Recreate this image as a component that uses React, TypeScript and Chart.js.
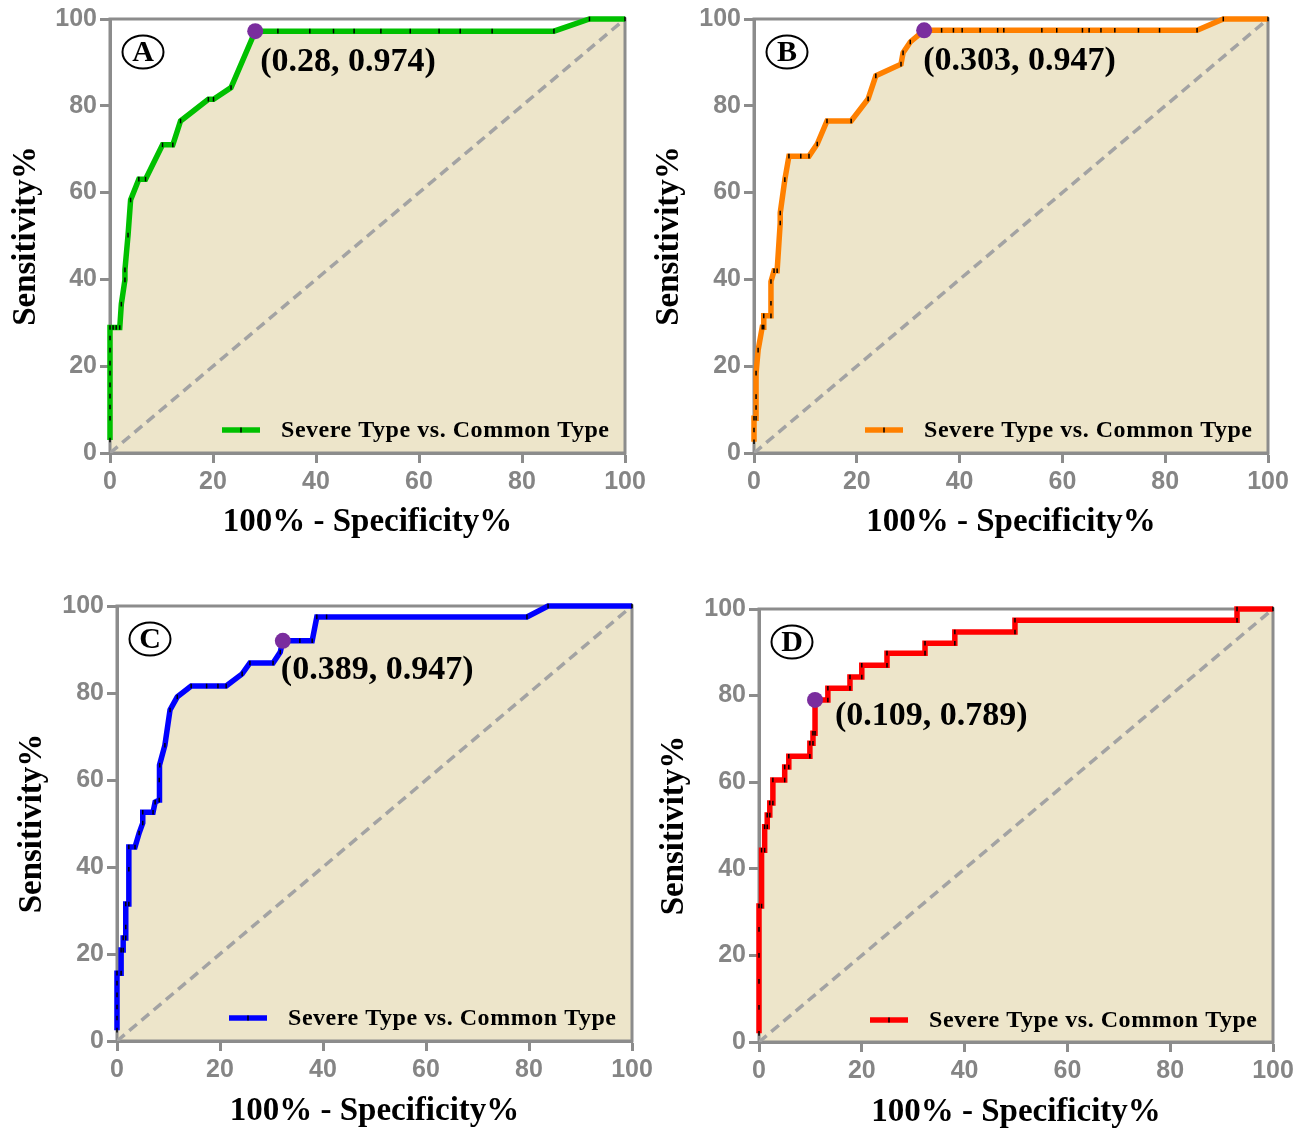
import React, { useEffect, useRef } from "react";
import { Chart, registerables } from "chart.js";

Chart.register(...registerables);

// ---------- tick labels & texts ----------
const xTickValues = [0, 20, 40, 60, 80, 100];
const yTickValues = [0, 20, 40, 60, 80, 100];
const xAxisTitle = "100% - Specificity%";
const yAxisTitle = "Sensitivity%";
const legendLabel = "Severe Type vs. Common Type";
const panelLetters = ["A", "B", "C", "D"];
const cutoffLabels = ["(0.28, 0.974)", "(0.303, 0.947)", "(0.389, 0.947)", "(0.109, 0.789)"];
const cutoffFpr = [28.2, 33.1, 32.2, 10.9];
const cutoffTpr = [97.2, 97.4, 92.0, 79.0];
const diagonalX = [0, 100];
const diagonalY = [0, 100];

// ---------- Panel A (green) ----------
const fprA = [0, 0, 0, 0, 0, 0, 0, 0, 0, 0, 0.6, 1.2, 1.9, 2.2, 2.9, 2.9, 3.5, 4.0, 5.6, 6.9, 10.2, 12.2, 13.7, 19.1, 20.1, 23.5, 28.2, 32.6, 38.8, 43.4, 47.4, 52.6, 58.3, 63.9, 68.0, 74.2, 86.2, 93.1, 100];
const tprA = [3.0, 8.0, 10.6, 13.1, 15.7, 18.4, 20.7, 23.7, 26.5, 28.9, 28.9, 28.9, 28.9, 34.3, 39.9, 42.2, 50.2, 58.3, 63.1, 63.1, 71.0, 71.0, 76.5, 81.5, 81.5, 84.2, 97.2, 97.2, 97.2, 97.2, 97.2, 97.2, 97.2, 97.2, 97.2, 97.2, 97.2, 100, 100];

// ---------- Panel B (orange) ----------
const fprB = [0, 0, 0, 0.4, 0.4, 0.4, 0.4, 0.8, 1.6, 1.9, 1.9, 3.3, 3.3, 3.3, 3.9, 4.5, 5.1, 5.1, 6.0, 6.8, 9.1, 10.7, 12.3, 14.2, 18.9, 22.2, 23.7, 28.6, 29.0, 30.4, 33.1, 36.5, 38.8, 40.5, 44.0, 47.4, 48.6, 56.0, 58.9, 63.9, 65.2, 67.5, 70.2, 74.8, 78.9, 86.2, 91.3, 100];
const tprB = [2.6, 5.3, 8.0, 8.0, 10.5, 13.0, 18.4, 23.7, 29.0, 29.0, 31.6, 31.6, 34.5, 39.5, 42.0, 42.0, 53.0, 55.3, 63.0, 68.4, 68.4, 68.4, 71.2, 76.5, 76.5, 81.6, 86.9, 89.6, 92.2, 94.7, 97.4, 97.4, 97.4, 97.4, 97.4, 97.4, 97.4, 97.4, 97.4, 97.4, 97.4, 97.4, 97.4, 97.4, 97.4, 97.4, 100, 100];

// ---------- Panel C (blue) ----------
const fprC = [0, 0, 0, 0, 0, 0, 0.8, 0.8, 1.2, 1.2, 1.7, 1.7, 1.7, 2.3, 2.3, 2.3, 3.5, 4.3, 5.0, 5.0, 7.0, 7.4, 8.2, 8.2, 8.3, 9.3, 10.3, 11.7, 14.4, 17.4, 19.6, 21.2, 24.3, 25.8, 30.3, 31.7, 32.2, 35.5, 37.9, 38.8, 40.7, 79.6, 83.7, 100];
const tprC = [2.5, 5.3, 7.8, 10.6, 13.3, 15.6, 15.6, 20.9, 20.9, 23.7, 23.7, 26.2, 31.5, 31.5, 39.5, 44.6, 44.6, 47.8, 50.1, 52.6, 52.6, 54.9, 55.4, 60.0, 63.4, 68.0, 76.1, 79.1, 81.6, 81.6, 81.6, 81.6, 84.4, 86.9, 86.9, 89.4, 92.0, 92.0, 92.0, 97.5, 97.5, 97.5, 100, 100];

// ---------- Panel D (red) ----------
const fprD = [0, 0, 0, 0, 0, 0, 0.5, 0.5, 1.1, 1.1, 1.6, 1.6, 2.1, 2.1, 2.7, 2.7, 5.0, 5.0, 5.8, 5.8, 9.9, 9.9, 10.5, 10.5, 10.9, 10.9, 13.4, 13.4, 17.7, 17.7, 20.0, 20.0, 24.9, 24.9, 32.3, 32.3, 38.1, 38.1, 49.8, 49.8, 93.0, 93.0, 100];
const tprD = [2.0, 8.0, 14.0, 20.0, 26.0, 31.4, 31.4, 44.3, 44.3, 49.7, 49.7, 52.4, 52.4, 55.2, 55.2, 60.5, 60.5, 63.5, 63.5, 66.0, 66.0, 69.0, 69.0, 71.3, 71.3, 79.0, 79.0, 81.7, 81.7, 84.3, 84.3, 87.0, 87.0, 89.8, 89.8, 92.1, 92.1, 94.7, 94.7, 97.4, 97.4, 100, 100];

const seriesFpr = [fprA, fprB, fprC, fprD];
const seriesTpr = [tprA, tprB, tprC, tprD];
const seriesColors = ["#00c000", "#ff8000", "#0000ff", "#ff0000"];

// ---------- layout (page pixels) ----------
type Layout = {
  area: [number, number, number, number]; // left, top, right, bottom
  yTitleX: number;
  xTitleY: number;
  labelDx: number;
  labelDy: number;
  legendDy: number;
};
const layouts: Layout[] = [
  { area: [110, 19, 625, 453], yTitleX: 27, xTitleY: 522, labelDx: 5, labelDy: 31, legendDy: 22 },
  { area: [754, 19, 1268, 453], yTitleX: 670, xTitleY: 522, labelDx: -1, labelDy: 31, legendDy: 22 },
  { area: [117, 606, 632, 1041], yTitleX: 33, xTitleY: 1111, labelDx: -2, labelDy: 29, legendDy: 22 },
  { area: [759, 609, 1273, 1042], yTitleX: 675, xTitleY: 1112, labelDx: 20, labelDy: 16, legendDy: 21 },
];

const AXIS_GREY = "#8c8c8c";
const TICK_GREY = "#858585";
const BEIGE = "rgb(237,229,202)";
const PURPLE = "#7a2d9e";
const SERIF = '"Liberation Serif", "Times New Roman", serif';
const SANS = '"Liberation Sans", Arial, sans-serif';
const TITLE_SIZE = 33;
const TITLE_HALF = (TITLE_SIZE * 1.2) / 2;

function RocPanel({ idx }: { idx: number }) {
  const ref = useRef<HTMLCanvasElement | null>(null);
  const L = layouts[idx];
  const [aL, aT, aR, aB] = L.area;
  const cLeft = Math.round(L.yTitleX - TITLE_HALF);
  const cTop = aT - 45;
  const cRight = aR + 45;
  const cBottom = Math.round(L.xTitleY + TITLE_HALF);
  const W = cRight - cLeft;
  const H = cBottom - cTop;

  useEffect(() => {
    if (!ref.current) return;
    const color = seriesColors[idx];
    const rocData = seriesFpr[idx].map((x, i) => ({ x, y: seriesTpr[idx][i] }));
    const diagData = diagonalX.map((x, i) => ({ x, y: diagonalY[i] }));
    const cutData = [{ x: cutoffFpr[idx], y: cutoffTpr[idx] }];

    const decor = {
      id: "decor" + idx,
      beforeDatasetsDraw(chart: any) {
        const { ctx, chartArea: a } = chart;
        ctx.save();
        ctx.strokeStyle = AXIS_GREY;
        ctx.lineWidth = 3;
        ctx.strokeRect(a.left, a.top, a.right - a.left, a.bottom - a.top);
        ctx.restore();
      },
      afterDraw(chart: any) {
        const { ctx, chartArea: a, scales } = chart;
        ctx.save();
        // circled letter
        const cx = a.left + 33;
        const cy = a.top + 33;
        ctx.beginPath();
        ctx.ellipse(cx, cy, 20.5, 16.5, 0, 0, Math.PI * 2);
        ctx.strokeStyle = "#000";
        ctx.lineWidth = 2;
        ctx.stroke();
        ctx.fillStyle = "#000";
        ctx.font = `bold 30px ${SERIF}`;
        ctx.textAlign = "center";
        ctx.textBaseline = "middle";
        ctx.fillText(panelLetters[idx], cx, cy + 1.5);

        // cut-off annotation
        const px = scales.x.getPixelForValue(cutoffFpr[idx]);
        const py = scales.y.getPixelForValue(cutoffTpr[idx]);
        ctx.font = `bold 34px ${SERIF}`;
        ctx.textAlign = "left";
        ctx.fillText(cutoffLabels[idx], px + L.labelDx, py + L.labelDy);

        // legend
        const textLeft = a.right - 344;
        const ly = a.bottom - L.legendDy;
        ctx.font = `bold 24px ${SERIF}`;
        (ctx as any).letterSpacing = "0px";
        const w0 = ctx.measureText(legendLabel).width;
        (ctx as any).letterSpacing = ((328 - w0) / (legendLabel.length - 1)).toFixed(2) + "px";
        ctx.fillText(legendLabel, textLeft, ly);
        (ctx as any).letterSpacing = "0px";
        ctx.beginPath();
        ctx.moveTo(textLeft - 59, ly - 1);
        ctx.lineTo(textLeft - 21, ly - 1);
        ctx.strokeStyle = color;
        ctx.lineWidth = 5.5;
        ctx.stroke();
        ctx.beginPath();
        ctx.moveTo(textLeft - 40, ly - 3.5);
        ctx.lineTo(textLeft - 40, ly + 1.5);
        ctx.strokeStyle = "#000";
        ctx.lineWidth = 1.5;
        ctx.stroke();
        ctx.restore();
      },
    };

    const chart = new Chart(ref.current, {
      type: "line",
      data: {
        datasets: [
          {
            data: cutData,
            showLine: false,
            pointRadius: 8,
            pointStyle: "circle",
            pointBackgroundColor: PURPLE,
            pointBorderColor: PURPLE,
            borderWidth: 0,
            fill: false,
          },
          {
            data: rocData,
            borderColor: color,
            borderWidth: 5.5,
            backgroundColor: BEIGE,
            fill: "start",
            tension: 0,
            pointStyle: "line",
            pointRotation: 90,
            pointRadius: 2.3,
            pointBorderColor: "#000",
            pointBorderWidth: 1.5,
            clip: 4,
          },
          {
            data: diagData,
            borderColor: "#a3a3a3",
            borderWidth: 3.5,
            borderDash: [10, 6],
            pointRadius: 0,
            fill: false,
          },
        ],
      } as any,
      options: {
        animation: false,
        responsive: false,
        maintainAspectRatio: false,
        devicePixelRatio: 1,
        events: [],
        layout: { padding: { left: 0, top: aT - cTop, right: cRight - aR, bottom: 0 } },
        plugins: {
          legend: { display: false },
          tooltip: { enabled: false },
          filler: { drawTime: "beforeDatasetsDraw" } as any,
        },
        scales: {
          x: {
            type: "linear",
            min: 0,
            max: 100,
            afterBuildTicks: (s: any) => {
              s.ticks = xTickValues.map((v) => ({ value: v }));
            },
            afterFit: (s: any) => {
              s.height = cBottom - aB;
            },
            grid: { drawOnChartArea: false, drawTicks: true, tickLength: 10, tickWidth: 3, tickColor: AXIS_GREY },
            border: { display: true, color: AXIS_GREY, width: 3 },
            ticks: {
              color: TICK_GREY,
              font: { family: SANS, weight: "bold", size: 25 },
              padding: 4,
              maxRotation: 0,
              autoSkip: false,
            },
            title: {
              display: true,
              text: xAxisTitle,
              color: "#000",
              font: { family: SERIF, weight: "bold", size: TITLE_SIZE },
              padding: 0,
            },
          },
          y: {
            type: "linear",
            min: 0,
            max: 100,
            afterBuildTicks: (s: any) => {
              s.ticks = yTickValues.map((v) => ({ value: v }));
            },
            afterFit: (s: any) => {
              s.width = aL - cLeft;
            },
            grid: { drawOnChartArea: false, drawTicks: true, tickLength: 10, tickWidth: 3, tickColor: AXIS_GREY },
            border: { display: true, color: AXIS_GREY, width: 3 },
            ticks: {
              color: TICK_GREY,
              font: { family: SANS, weight: "bold", size: 25 },
              padding: 3,
              autoSkip: false,
            },
            title: {
              display: true,
              text: yAxisTitle,
              color: "#000",
              font: { family: SERIF, weight: "bold", size: TITLE_SIZE },
              padding: 0,
            },
          },
        },
      } as any,
      plugins: [decor as any],
    });
    return () => chart.destroy();
  }, []);

  return (
    <canvas
      ref={ref}
      width={W}
      height={H}
      style={{ position: "absolute", left: cLeft, top: cTop, width: W, height: H }}
    />
  );
}

export default function App() {
  return (
    <div
      style={{
        position: "absolute",
        left: 0,
        top: 0,
        width: 1309,
        height: 1128,
        overflow: "hidden",
        background: "#fff",
      }}
    >
      {[0, 1, 2, 3].map((i) => (
        <RocPanel key={i} idx={i} />
      ))}
    </div>
  );
}
